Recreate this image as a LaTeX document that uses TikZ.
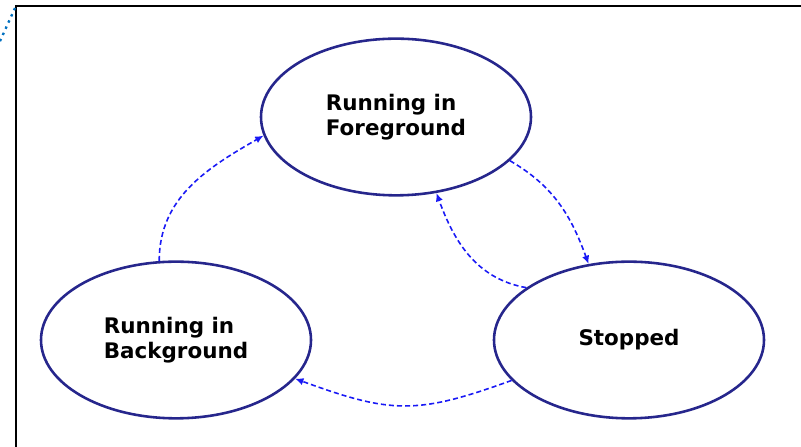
\documentclass[tikz,border=0pt]{standalone}
\usepackage{fontspec}
\usepackage{tikz}
\usetikzlibrary{arrows.meta,shapes.geometric}
\newfontfamily\dejavu{DejaVu Sans}
\definecolor{stnavy}{RGB}{38,38,140}
\definecolor{trblue}{RGB}{25,25,245}
\definecolor{dotblue}{RGB}{0,112,192}
\tikzset{
  stnode/.style={ellipse, draw=stnavy, line width=2.2pt, fill=white,
                 minimum width=81mm, minimum height=47mm, inner sep=0pt,
                 align=left, font=\dejavu\bfseries\fontsize{18.3}{21.3}\selectfont},
  trarr/.style={-{Latex[length=2.5mm,width=2.2mm]}, trblue, line width=1.35pt,
                dash pattern=on 4.3pt off 2.6pt},
  frm/.style={black, line width=2pt},
  dotln/.style={dotblue, line width=2pt, dash pattern=on 2.1pt off 3.7pt},
}
\begin{document}
\begin{tikzpicture}[x=0.3mm, y=0.3mm]
        \useasboundingbox (0,0) rectangle (801,447);
        \clip (0,0) rectangle (801,447);
        \draw[frm] (16,-20) -- (16,441) -- (820,441);
        \draw[dotln] (15,439) -- (-4,397);
        \node[stnode] (fg) at (396,330) {Running in\\Foreground};
        \node[stnode] (bg) at (176,107) {Running in\\Background};
        \node[stnode] (stp) at (629,107) {Stopped};
        \draw[trarr] (bg.102) to[out=90, in=210] (fg.188);
        \draw[trarr] (fg.339) to[out=-30, in=110] (stp.118);
        \draw[trarr] (stp.153) to[out=170, in=-70] (fg.298);
        \draw[trarr] (stp.199) to[out=200, in=-20, looseness=1.2] (bg.342);
      \end{tikzpicture}
\end{document}
